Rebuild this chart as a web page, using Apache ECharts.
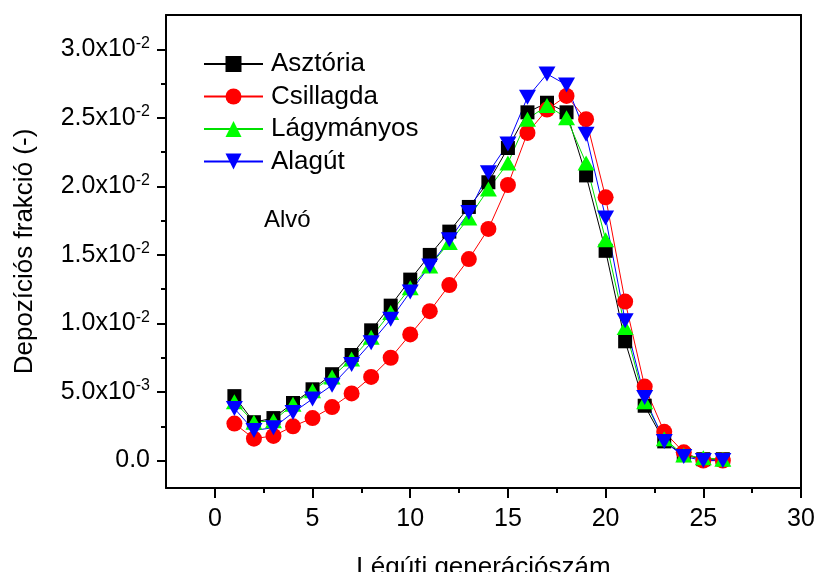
<!DOCTYPE html>
<html>
<head>
<meta charset="utf-8">
<script src="https://cdn.jsdelivr.net/npm/echarts@6/dist/echarts.min.js"></script>
<style>
html,body{margin:0;padding:0;background:#fff;}
#chart{width:815px;height:572px;}
</style>
</head>
<body>
<div id="chart"></div>
<script>
var generations = [1,2,3,4,5,6,7,8,9,10,11,12,13,14,15,16,17,18,19,20,21,22,23,24,25,26];
var asztoria   = [0.0047,0.0028,0.0031,0.0042,0.0052,0.0063,0.0077,0.0095,0.0113,0.0132,0.0150,0.0167,0.0185,0.0203,0.0228,0.0254,0.0261,0.0254,0.0208,0.0153,0.0087,0.0040,0.0014,0.0004,0.0001,0.0001];
var csillagda  = [0.0027,0.0016,0.0018,0.0025,0.0031,0.0039,0.0049,0.0061,0.0075,0.0092,0.0109,0.0128,0.0147,0.0169,0.0201,0.0239,0.0256,0.0266,0.0249,0.0192,0.0116,0.0054,0.0021,0.0006,0.0000,0.0000];
var lagymanyos = [0.0043,0.0028,0.0029,0.0041,0.0051,0.0061,0.0074,0.0090,0.0108,0.0126,0.0142,0.0159,0.0177,0.0198,0.0217,0.0249,0.0259,0.0250,0.0217,0.0161,0.0097,0.0043,0.0016,0.0004,0.0002,0.0001];
var alagut     = [0.0038,0.0022,0.0024,0.0035,0.0045,0.0055,0.0070,0.0086,0.0103,0.0123,0.0142,0.0161,0.0181,0.0210,0.0231,0.0265,0.0282,0.0274,0.0238,0.0177,0.0102,0.0046,0.0014,0.0003,0.0000,0.0000];
var seriesNames = ['Asztória','Csillagda','Lágymányos','Alagút'];
var xTicks = [0,5,10,15,20,25,30];
var xMinorTicks = [2.5,7.5,12.5,17.5,22.5,27.5];
var yTicks = [0,0.005,0.010,0.015,0.020,0.025,0.030];
var yMinorTicks = [0.0025,0.0075,0.0125,0.0175,0.0225,0.0275];

function pairs(vals){ return generations.map(function(g,i){ return [g, vals[i]]; }); }

function yFmt(v){
  if (Math.abs(v) < 1e-12) return '{b|0.0}';
  var e = Math.floor(Math.log10(v) + 1e-9);
  var m = v / Math.pow(10, e);
  return '{b|' + m.toFixed(1) + 'x10}{s|' + e + '}';
}

var FONT = 'Liberation Sans, Arial, sans-serif';
var chart = echarts.init(document.getElementById('chart'));
var axisLine = {show:true, onZero:false, lineStyle:{color:'#000', width:2}};
var noLine = {show:false, onZero:false};
var option = {
  backgroundColor:'#fff',
  animation:false,
  textStyle:{fontFamily:FONT},
  title:{text:'Alvó', left:264, top:208, padding:0, textStyle:{fontFamily:FONT, fontSize:24, fontWeight:'normal', color:'#000'}},
  legend:{
    orient:'vertical', left:203, top:51, padding:0, itemWidth:59, itemHeight:20, itemGap:6.5,
    textStyle:{fontFamily:FONT, fontSize:26, color:'#000', padding:[0,0,0,3]},
    data:seriesNames
  },
  grid:{left:166, right:14, top:15, bottom:84, containLabel:false, outerBoundsMode:'none'},
  xAxis:[
    {type:'value', min:-2.5, max:30, position:'bottom',
     axisLine:axisLine, splitLine:{show:false},
     axisTick:{show:true, inside:false, length:10, lineStyle:{color:'#000', width:2}, customValues:xTicks},
     axisLabel:{show:true, margin:19, fontSize:25, color:'#000', fontFamily:FONT, customValues:xTicks},
     name:'Légúti generációszám', nameLocation:'middle', nameGap:67,
     nameTextStyle:{fontSize:26, color:'#000', fontFamily:FONT}},
    {type:'value', min:-2.5, max:30, position:'bottom',
     axisLine:noLine, splitLine:{show:false},
     axisTick:{show:true, length:5, lineStyle:{color:'#000', width:2}, customValues:xMinorTicks},
     axisLabel:{show:false}},
    {type:'value', min:-2.5, max:30, position:'top',
     axisLine:axisLine, splitLine:{show:false}, axisTick:{show:false}, axisLabel:{show:false}}
  ],
  yAxis:[
    {type:'value', min:-0.002, max:0.0325, position:'left',
     axisLine:axisLine, splitLine:{show:false},
     axisTick:{show:true, length:9, lineStyle:{color:'#000', width:2}, customValues:yTicks},
     axisLabel:{show:true, margin:16, color:'#000', fontFamily:FONT, customValues:yTicks, formatter:yFmt,
       rich:{b:{fontSize:25, fontFamily:FONT, color:'#000', lineHeight:28},
             s:{fontSize:16, fontFamily:FONT, color:'#000', verticalAlign:'top', lineHeight:16, padding:[0,0,0,0]}}},
     name:'Depozíciós frakció (-)', nameLocation:'middle', nameGap:128, nameRotate:90,
     nameTextStyle:{fontSize:26, color:'#000', fontFamily:FONT}},
    {type:'value', min:-0.002, max:0.0325, position:'left',
     axisLine:noLine, splitLine:{show:false},
     axisTick:{show:true, length:5, lineStyle:{color:'#000', width:2}, customValues:yMinorTicks},
     axisLabel:{show:false}},
    {type:'value', min:-0.002, max:0.0325, position:'right',
     axisLine:axisLine, splitLine:{show:false}, axisTick:{show:false}, axisLabel:{show:false}}
  ],
  series:[
    {name:seriesNames[0], type:'line', data:pairs(asztoria), symbol:'rect', symbolSize:14,
     itemStyle:{color:'#000'}, lineStyle:{color:'#000', width:1}},
    {name:seriesNames[1], type:'line', data:pairs(csillagda), symbol:'circle', symbolSize:16,
     itemStyle:{color:'#ff0000'}, lineStyle:{color:'#ff0000', width:1}},
    {name:seriesNames[2], type:'line', data:pairs(lagymanyos), symbol:'triangle', symbolSize:[17,15],
     itemStyle:{color:'#00ff00'}, lineStyle:{color:'#00e000', width:1}},
    {name:seriesNames[3], type:'line', data:pairs(alagut), symbol:'triangle', symbolSize:[17,15], symbolRotate:180,
     itemStyle:{color:'#0000ff'}, lineStyle:{color:'#0000ff', width:1}}
  ]
};
chart.setOption(option);
</script>
</body>
</html>
